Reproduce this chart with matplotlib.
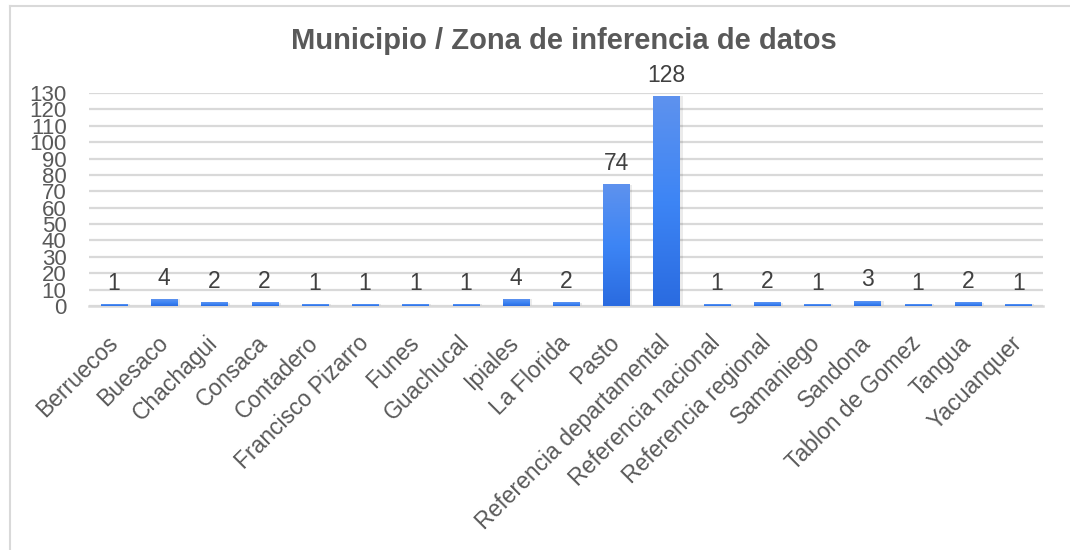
import matplotlib
matplotlib.use('Agg')
import matplotlib.pyplot as plt
import numpy as np
from matplotlib.colors import LinearSegmentedColormap

plt.rcParams['font.family'] = ['Liberation Sans', 'DejaVu Sans']

municipios = ['Berruecos', 'Buesaco', 'Chachagui', 'Consaca', 'Contadero',
              'Francisco Pizarro', 'Funes', 'Guachucal', 'Ipiales', 'La Florida',
              'Pasto', 'Referencia departamental', 'Referencia nacional',
              'Referencia regional', 'Samaniego', 'Sandona', 'Tablon de Gomez',
              'Tangua', 'Yacuanquer']
valores = [1, 4, 2, 2, 1, 1, 1, 1, 4, 2, 74, 128, 1, 2, 1, 3, 1, 2, 1]
yticks = list(range(0, 131, 10))

fig = plt.figure(figsize=(10.7, 5.5), dpi=100)
ax = fig.add_axes([0.083, 0.4436, 0.892, 0.3874])

x = np.arange(len(municipios))
ancho = 0.52
grad = LinearSegmentedColormap.from_list('azul', ['#2a6be0', '#3d85f5', '#5e92ee'])
barras = ax.bar(x, valores, width=ancho, color='none', zorder=3)
g = np.linspace(0, 1, 256).reshape(-1, 1)
for b in barras:
    x0, y0 = b.get_x(), b.get_y()
    w, h = b.get_width(), b.get_height()
    ax.imshow(g, cmap=grad, aspect='auto', origin='lower',
              extent=[x0, x0 + w, y0, y0 + h], zorder=3)
    # sombra suave
    ax.bar(x0 + w / 2 + 0.03, h, width=w + 0.06, color='#000000', alpha=0.08,
           zorder=2.5)

for xi, v in zip(x, valores):
    ax.annotate(str(v), (xi, v), xytext=(0, 7), textcoords='offset points',
                ha='center', va='bottom', fontsize=16.5, color='#404040')

ax.set_xlim(-0.5, len(municipios) - 0.5)
ax.set_ylim(0, 130)
ax.set_yticks(yticks)
ax.yaxis.grid(True, color='#d9d9d9', linewidth=1.6, zorder=0)
ax.set_axisbelow(True)
for s in ['top', 'right', 'left']:
    ax.spines[s].set_visible(False)
ax.spines['bottom'].set_color('#d9d9d9')
ax.spines['bottom'].set_linewidth(1.8)
ax.tick_params(axis='y', length=0, pad=16, labelsize=16, labelcolor='#595959')
ax.tick_params(axis='x', length=0, pad=24, labelsize=16.5, labelcolor='#595959')
ax.set_xticks(x)
ax.set_xticklabels(municipios, rotation=45, ha='right', va='center',
                   rotation_mode='anchor')

fig.text(0.527, 0.925, 'Municipio / Zona de inferencia de datos', ha='center',
         va='center', fontsize=21, fontweight='bold', color='#595959')

# marco del grafico
fig.add_artist(plt.Line2D([10 / 1070, 1.0], [1 - 6 / 550, 1 - 6 / 550],
                          transform=fig.transFigure, color='#d9d9d9', lw=1.5))
fig.add_artist(plt.Line2D([10 / 1070, 10 / 1070], [0, 1 - 6 / 550],
                          transform=fig.transFigure, color='#d9d9d9', lw=1.5))

fig.savefig('out.png', dpi=100)
